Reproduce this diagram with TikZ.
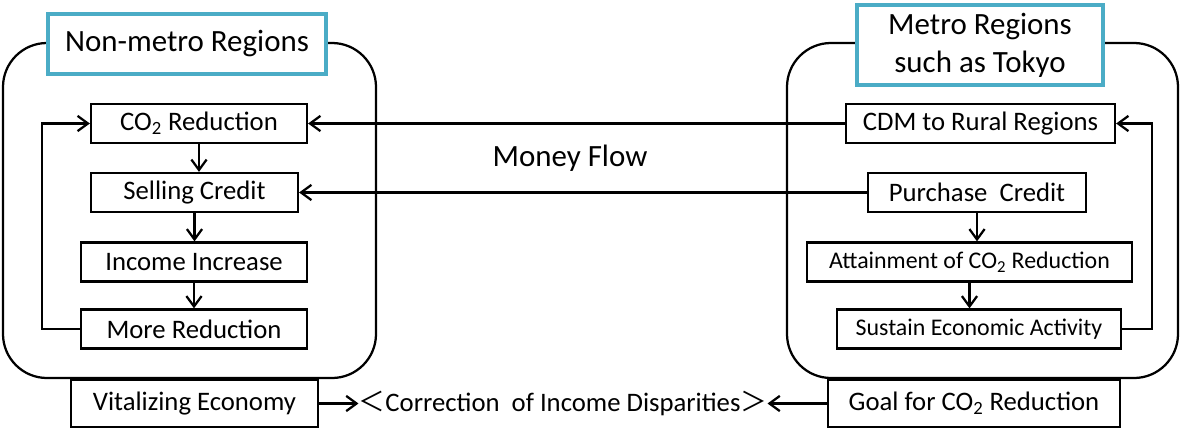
\documentclass[tikz,border=0pt]{standalone}
\usepackage{fontspec}
\setmainfont{Carlito}
\newfontfamily\cjkfont{Noto Sans CJK JP}
\usetikzlibrary{positioning,arrows.meta}
\definecolor{TitleCyan}{HTML}{4BACC6}

\begin{document}
\begin{tikzpicture}[>={Straight Barb[length=2.6mm,width=3.8mm]}]
    \tikzstyle{box}=[draw,line width=1.6pt,align=center,minimum height=.975cm,inner sep=1pt,font=\fontsize{19}{22}\selectfont]
    \tikzstyle{title}=[draw=TitleCyan,line width=2.4pt,fill=white,align=center,font=\fontsize{22}{27}\selectfont]
    \tikzstyle{region}=[line width=1.6pt,rounded corners=1.1cm]
    \tikzstyle{flow}=[->,line width=1.6pt]
    \useasboundingbox (0,0) rectangle (29.525,10.7);
    \draw[region] (0.075,1.25) rectangle (9.4,9.625);
    \draw[region] (19.675,1.25) rectangle (29.45,9.625);
    \node[title,minimum width=6.95cm,minimum height=1.5cm] (rural) at (4.675,9.6)  {Non-metro Regions};
    \node[title,minimum width=6.15cm,minimum height=2cm]   (metro) at (24.5,9.575) {Metro Regions\\such as Tokyo};
    \node[box,minimum width=5.4cm]   (co2)    at (4.975,7.6125) {CO\textsubscript{2} Reduction};
    \node[box,minimum width=5.175cm] (sell)   at (4.8625,5.8875){Selling Credit};
    \node[box,minimum width=5.65cm]  (income) at (4.85,4.15)    {Income Increase};
    \node[box,minimum width=5.65cm]  (more)   at (4.85,2.475)   {More Reduction};
    \node[box,minimum width=6.175cm,minimum height=1.175cm] (vital) at (4.8625,0.6125) {Vitalizing Economy};
    \node[box,minimum width=6.725cm] (cdm)    at (24.5125,7.6125){CDM to Rural Regions};
    \node[box,minimum width=5.45cm]  (buy)    at (24.425,5.8875) {Purchase~ Credit};
    \node[box,minimum width=8.125cm,font=\fontsize{17}{20}\selectfont] (attain) at (24.2375,4.15) {Attainment of CO\textsubscript{2} Reduction};
    \node[box,minimum width=7.1cm,font=\fontsize{17}{20}\selectfont]   (keep)   at (24.475,2.475)  {Sustain Economic Activity};
    \node[box,minimum width=7.3cm,minimum height=1.175cm] (goal) at (24.35,0.6125) {Goal for CO\textsubscript{2} Reduction};
    \node[font=\fontsize{22}{26}\selectfont] (money) at (14.25,6.75) {Money Flow};
    \node[inner sep=0pt,font=\fontsize{19}{22}\selectfont] (fix) at (14.075,0.6125) {{\cjkfont ＜}Correction~ of Income Disparities{\cjkfont ＞}};
    \draw[flow] (co2.south) -- (co2.south |- sell.north);
    \draw[flow] (sell.south) -- (sell.south |- income.north);
    \draw[flow] (income) -- (more);
    \draw[flow] (more.west) -- ++(-0.95,0) |- (co2.west);
    \draw[flow] (buy.south) -- (buy.south |- attain.north);
    \draw[flow] (attain.south) -- (attain.south |- keep.north);
    \draw[flow] (keep.east) -- ++(0.75,0) |- (cdm.east);
    \draw[flow] (cdm) -- (co2);
    \draw[flow] (buy) -- (sell);
    \draw[flow] (vital) -- (fix);
    \draw[flow] (goal) -- (fix);
  \end{tikzpicture}
\end{document}
